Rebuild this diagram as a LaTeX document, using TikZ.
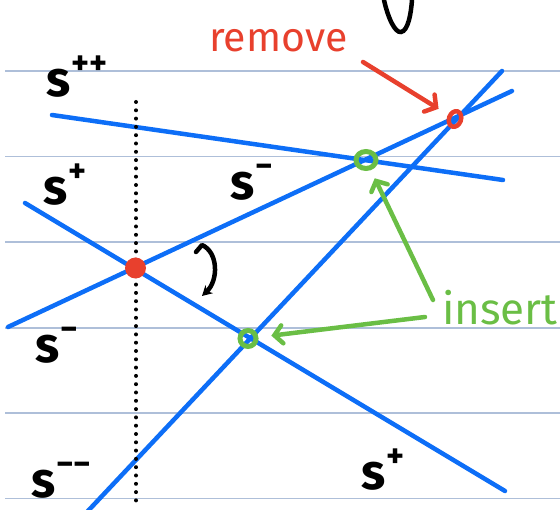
\documentclass[tikz,border=0pt]{standalone}
\usepackage{fontspec}
\setmainfont{Fira Sans}
\usetikzlibrary{arrows.meta,shapes.geometric}
\definecolor{rulecol}{HTML}{AEBFD9}
\definecolor{lineblue}{HTML}{0D6EF7}
\definecolor{penred}{HTML}{E8402D}
\definecolor{pengreen}{HTML}{6ABE45}
\newcommand\slab[1]{s\kern1pt\raisebox{22pt}{\fontsize{34}{34}\selectfont #1}}
\tikzset{
  ruled/.style={rulecol, line width=1.4pt},
  bline/.style={lineblue, line width=4.5pt, line cap=round},
  lbl/.style={inner sep=0pt, anchor=base west, font=\fontsize{50}{50}\selectfont\bfseries},
  greencirc/.style={circle, draw=pengreen, line width=5pt, inner sep=0pt},
  garrow/.style={pengreen, line width=4.5pt, line cap=round, -{Straight Barb[length=8pt,width=18pt,line cap=round]}},
  rarrow/.style={penred, line width=4.5pt, line cap=round, -{Straight Barb[length=8pt,width=20pt,line cap=round]}},
}
\begin{document}
\begin{tikzpicture}[x=1pt,y=-1pt]
\useasboundingbox (0,0) rectangle (560,510);
% ruled paper
\foreach \yy in {71,156.5,242,328,413,498.5}
  \draw[ruled] (5,\yy) -- (560,\yy);
% blue lines
\coordinate (a1) at (52,115);  \coordinate (b1) at (503,180);
\coordinate (a2) at (8,327);   \coordinate (b2) at (512,91);
\coordinate (a3) at (25,203);  \coordinate (b3) at (505,491);
\coordinate (a4) at (87,512);  \coordinate (b4) at (502,71);
\draw[bline] (a1) -- (b1);
\draw[bline] (a2) -- (b2);
\draw[bline] (a3) -- (b3);
\draw[bline] (a4) -- (b4);
% dotted vertical line
\coordinate (d1) at (136,102); \coordinate (d2) at (136,506);
\draw[black, line width=4pt, line cap=round, dash pattern=on 0pt off 8.3pt] (d1) -- (d2);
% intersection marks
\node[circle, fill=penred, minimum size=21pt, inner sep=0pt] (cur) at (135.5,268) {};
\node[greencirc, minimum size=16pt] (ins1) at (248,338.5) {};
\node[greencirc, minimum width=20pt, minimum height=17pt, ellipse] (ins2) at (366,160) {};
\node[ellipse, draw=penred, line width=4.5pt, minimum width=12pt, minimum height=16pt, inner sep=0pt, rotate=-20] (rem) at (455,119) {};
% labels
\node[lbl] (spp) at (46,97) {\slab{++}};
\node[lbl] (sp1) at (43,205) {\slab{+}};
\node[lbl] (sm1) at (230,200) {\slab{−}};
\node[lbl] (sm2) at (35,363) {\slab{−}};
\node[lbl] (smm) at (31,498) {\slab{−−}};
\node[lbl] (sp2) at (361,490) {\slab{+}};
% remove
\node[inner sep=0pt, anchor=base west, text=penred, font=\fontsize{41}{41}\selectfont] (remtxt) at (209,52) {remove};
\coordinate (rstart) at (363,62);
\draw[rarrow, shorten >=11pt] (rstart) -- (rem);
% insert
\node[inner sep=0pt, anchor=base west, text=pengreen, font=\fontsize{44}{44}\selectfont] (instxt) at (442,325) {insert};
\coordinate (g1) at (433,300);
\coordinate (g2) at (425,317);
\draw[garrow, shorten >=9pt] (g1) -- (ins2);
\draw[garrow, shorten >=13pt] (g2) -- (ins1);
% swap arrow
\coordinate (sw0) at (196,252);
\coordinate (sw1) at (202,245);
\coordinate (sw2) at (202,296);
\draw[black, line width=4.5pt, line cap=round, line join=round, -{Stealth[length=10pt,width=11pt]}]
  (sw0) -- (sw1) .. controls (218,252) and (219,280) .. (sw2);
% partial stroke at top
\coordinate (t0) at (384,0);
\coordinate (t1) at (401,32);
\coordinate (t2) at (412,0);
\draw[black, line width=4.5pt, line cap=round]
  (t0) .. controls (388,18) and (395,33) .. (t1) .. controls (408,31) and (411,14) .. (t2);
\end{tikzpicture}
\end{document}
